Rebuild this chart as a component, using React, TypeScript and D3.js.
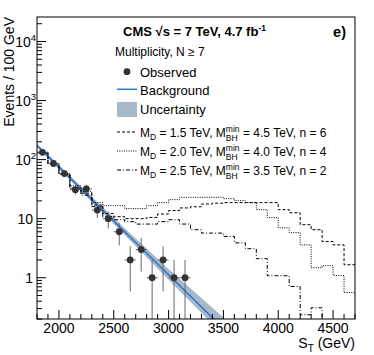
import React from "react";
import * as d3 from "d3";

// ---------------- data ----------------
const binEdgesLow = 1800;
const binWidth = 100;
const nBins = 29;

const obsST = [1850, 1950, 2050, 2150, 2250, 2350, 2450, 2550, 2650, 2750, 2850, 2950, 3050, 3150];
const obsN = [133, 86, 58, 31, 32, 14, 10, 6, 2, 3, 1, 2, 1, 1];

const bkgST = [1800, 2200, 2600, 3000, 3400, 3700];
const bkgFit = [173, 32.3, 6.0, 1.12, 0.21, 0.058];
const bkgUp = [187, 35.5, 6.9, 1.4, 0.31, 0.1];
const bkgDown = [160, 29.4, 5.3, 0.92, 0.165, 0.045];

// signal + background, 100 GeV bins from 1800 to 4700
const sigMD15 = [133, 86, 57, 33, 27, 17, 12.2, 10.8, 10.0, 10.0, 10.5, 12.0, 13.7, 15.2, 15.9, 17.7, 18.3, 18.7, 18.7, 18.7, 18.7, 18.7, 14.2, 12.6, 7.9, 6.5, 4.1, 3.6, 1.66];
const sigMD20 = [131, 86, 58, 36, 28.7, 18.7, 16.6, 16.6, 14.8, 14.8, 16.6, 18.7, 21, 23, 23, 23, 23, 21.8, 20.2, 18.7, 14.2, 10.4, 7.0, 5.8, 3.6, 1.48, 1.6, 1.09, 0.56];
const sigMD25 = [130, 85, 56, 32, 25, 16, 10.8, 9.6, 8.9, 8.1, 8.1, 8.9, 9.6, 8.1, 6.5, 5.7, 5.7, 5.0, 3.9, 3.1, 2.1, 1.08, 1.08, 0.71, 0.236, 0.31, 0, 0, 0];

const xTicks = [2000, 2500, 3000, 3500, 4000, 4500];
const yTicksExp = [2, 3, 4];
const yTicksPlain = [1, 10];

const sigLegend = [
  { md: "1.5", mbh: "4.5", n: "6", dash: "3,2" },
  { md: "2.0", mbh: "4.0", n: "4", dash: "1,1.3" },
  { md: "2.5", mbh: "3.5", n: "2", dash: "4,2,1,2" },
];
const sigSeries = [sigMD15, sigMD20, sigMD25];

// ---------------- layout ----------------
const W = 374, H = 355;
const L = 37, R = 355, T = 17, B = 319;
const FONT = "'Liberation Sans', Arial, Helvetica, sans-serif";

export default function App() {
  const x = d3.scaleLinear().domain([1800, 4700]).range([L, R]);
  const y = d3.scaleLog().domain([0.2, 26000]).range([B, T]);
  const yc = (v: number) => (v > 0 ? y(v) : B + 50);

  const bkgPts = bkgST.map((s, i) => ({ s, v: bkgFit[i], up: bkgUp[i], dn: bkgDown[i] }));
  const line = d3.line<any>().x((d) => x(d.s)).y((d) => y(d.v));
  const area = d3.area<any>().x((d) => x(d.s)).y0((d) => y(d.dn)).y1((d) => y(d.up));

  const histPath = (vals: number[]) => {
    const pts = vals.map((v, i) => [binEdgesLow + i * binWidth, v] as [number, number]);
    pts.push([binEdgesLow + nBins * binWidth, vals[vals.length - 1]]);
    return d3.line<[number, number]>().x((d) => x(d[0])).y((d) => yc(d[1])).curve(d3.curveStepAfter)(pts) || "";
  };

  // ticks
  const xMinor = d3.range(1800, 4701, 100);
  const yMinor: number[] = [];
  [0.1, 1, 10, 100, 1000, 10000].forEach((dec) => {
    for (let k = 2; k <= 9; k++) {
      const v = dec * k;
      if (v >= 0.2 && v <= 26000) yMinor.push(v);
    }
  });

  return (
    <svg width={W} height={H} style={{ display: "block", position: "absolute", left: 0, top: 0 }} fontFamily={FONT}>
      <rect x={0} y={0} width={W} height={H} fill="#fff" />
      <defs>
        <clipPath id="plotclip">
          <rect x={L} y={T} width={R - L} height={B - T} />
        </clipPath>
      </defs>

      <g clipPath="url(#plotclip)">
        <path d={area(bkgPts) || ""} fill="#a7b9c9" />
        <path d={line(bkgPts) || ""} fill="none" stroke="#2a74d4" strokeWidth={1.5} />
        {sigSeries.map((vals, i) => (
          <path key={i} d={histPath(vals)} fill="none" stroke="#000" strokeWidth={1} strokeDasharray={sigLegend[i].dash} />
        ))}
        {obsST.map((s, i) => {
          const n = obsN[i];
          const e = Math.sqrt(n);
          const yHi = y(n + e);
          const yLo = n - e > 0 ? y(n - e) : B + 10;
          return (
            <g key={s}>
              <line x1={x(s)} x2={x(s)} y1={yHi} y2={yLo} stroke="#666" strokeWidth={1} />
              <line x1={x(s - binWidth / 2)} x2={x(s + binWidth / 2)} y1={y(n)} y2={y(n)} stroke="#666" strokeWidth={1} />
              <circle cx={x(s)} cy={y(n)} r={3.4} fill="#333" />
            </g>
          );
        })}
      </g>

      {/* frame */}
      <rect x={L} y={T} width={R - L} height={B - T} fill="none" stroke="#000" strokeWidth={1} />

      {/* x ticks */}
      {xMinor.map((v) => (
        <line key={"xm" + v} x1={x(v)} x2={x(v)} y1={B} y2={B - (v % 500 === 0 ? 9 : 5)} stroke="#000" />
      ))}
      {xTicks.map((v) => (
        <text key={"xt" + v} x={x(v)} y={333} fontSize={14} textAnchor="middle">{v}</text>
      ))}

      {/* y ticks */}
      {yMinor.map((v, i) => (
        <line key={"ym" + i} x1={L} x2={L + 5} y1={y(v)} y2={y(v)} stroke="#000" />
      ))}
      {[1, 10, 100, 1000, 10000].map((v) => (
        <line key={"yM" + v} x1={L} x2={L + 9} y1={y(v)} y2={y(v)} stroke="#000" />
      ))}
      {yTicksPlain.map((v) => (
        <text key={"yp" + v} x={33} y={y(v) + 5} fontSize={14} textAnchor="end">{v}</text>
      ))}
      {yTicksExp.map((p) => (
        <text key={"ye" + p} x={36} y={y(Math.pow(10, p)) + 5} fontSize={14} textAnchor="end">
          10<tspan fontSize={9.5} dy={-6}>{p}</tspan>
        </text>
      ))}

      {/* axis titles */}
      <text x={R} y={348} fontSize={14} textAnchor="end">
        S<tspan fontSize={10} dy={4}>T</tspan><tspan dy={-4}> (GeV)</tspan>
      </text>
      <text transform={`translate(14,${T}) rotate(-90)`} fontSize={14} textAnchor="end">Events / 100 GeV</text>

      {/* header */}
      <text x={123} y={36} fontSize={13} fontWeight="bold">
        CMS √s = 7 TeV, 4.7 fb<tspan fontSize={8.5} dy={-5}>-1</tspan>
      </text>
      <text x={346} y={37} fontSize={14.5} fontWeight="bold" textAnchor="end">e)</text>
      <text x={115} y={56} fontSize={12}>Multiplicity, N ≥ 7</text>

      {/* legend */}
      <circle cx={127} cy={71.7} r={3.4} fill="#333" />
      <text x={140} y={77} fontSize={13}>Observed</text>
      <line x1={117} x2={137} y1={89.3} y2={89.3} stroke="#2a74d4" strokeWidth={1.5} />
      <text x={140} y={95} fontSize={13}>Background</text>
      <rect x={117} y={102} width={20} height={15} fill="#a7b9c9" />
      <text x={140} y={114} fontSize={13}>Uncertainty</text>

      {sigLegend.map((s, i) => {
        const yy = 132 + i * 19;
        return (
          <g key={"sl" + i}>
            <line x1={117} x2={137} y1={yy} y2={yy} stroke="#000" strokeDasharray={s.dash} />
            <text x={140} y={yy + 4.5} fontSize={12}>
              M<tspan fontSize={8.5} dy={3}>D</tspan>
              <tspan dy={-3}>{` = ${s.md} TeV, M`}</tspan>
              <tspan fontSize={8.5} dy={-5}>min</tspan>
              <tspan fontSize={8.5} dx={-13.7} dy={9}>BH</tspan>
              <tspan dx={2} dy={-4}>{` = ${s.mbh} TeV, n = ${s.n}`}</tspan>
            </text>
          </g>
        );
      })}
    </svg>
  );
}
